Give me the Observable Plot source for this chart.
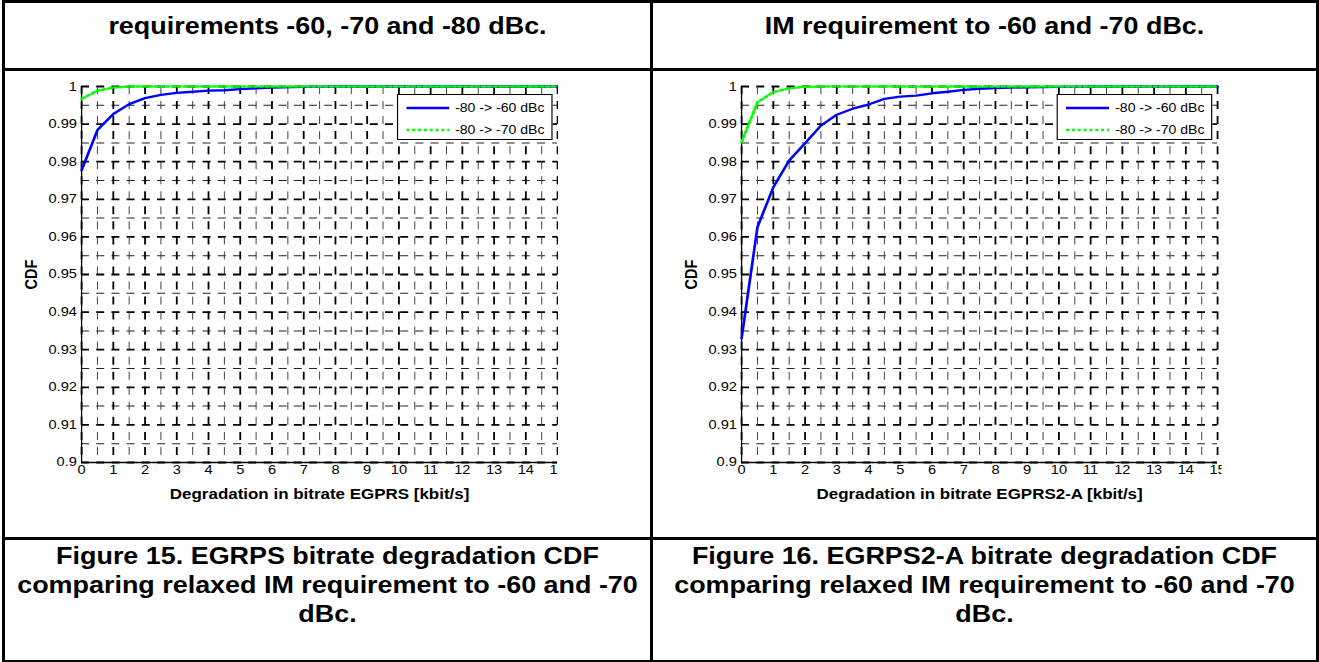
<!DOCTYPE html>
<html><head><meta charset="utf-8">
<script src="https://cdn.jsdelivr.net/npm/d3@7"></script>
<script src="https://cdn.jsdelivr.net/npm/@observablehq/plot@0.6"></script>
<style>
html,body{margin:0;padding:0;background:#fff;}
body{width:1319px;height:662px;position:relative;overflow:hidden;font-family:'Liberation Sans',Arial,Helvetica,sans-serif;}
.rule{position:absolute;background:#000;}
.txt{position:absolute;transform-origin:0 0;text-align:center;font-weight:bold;font-size:23px;line-height:29px;color:#000;white-space:nowrap;}
.clip{position:absolute;overflow:hidden;}
.stretch{position:relative;transform-origin:0 0;}
.legend{position:absolute;background:#fff;border:1px solid #000;box-sizing:border-box;font-size:12px;color:#000;}
.legend .row{position:absolute;left:0;height:16px;line-height:16px;white-space:nowrap;}
.legend svg{position:absolute;top:0;}
.legend span{position:absolute;top:0;}
</style>
</head><body>
<script>
// ---------- data ----------
const xTicks = [0,1,2,3,4,5,6,7,8,9,10,11,12,13,14,15];
const xTickLabels = ["0","1","2","3","4","5","6","7","8","9","10","11","12","13","14","15"];
const yTicks = [0.9,0.91,0.92,0.93,0.94,0.95,0.96,0.97,0.98,0.99,1];
const yTickLabels = ["0.9","0.91","0.92","0.93","0.94","0.95","0.96","0.97","0.98","0.99","1"];
const xGrid = [0,0.5,1,1.5,2,2.5,3,3.5,4,4.5,5,5.5,6,6.5,7,7.5,8,8.5,9,9.5,10,10.5,11,11.5,12,12.5,13,13.5,14,14.5,15];
const yGrid = [0.9,0.905,0.91,0.915,0.92,0.925,0.93,0.935,0.94,0.945,0.95,0.955,0.96,0.965,0.97,0.975,0.98,0.985,0.99,0.995,1];
const seriesNames = ["-80 -> -60 dBc","-80 -> -70 dBc"];

// Figure 15: EGPRS
const xEgprs   = [0,0.5,1,1.5,2,2.5,3,3.5,4,4.5,5,5.5,6,7,8,9,10,11,12,13,14,15];
const egprs60  = [0.9777,0.9884,0.9927,0.9953,0.9969,0.9978,0.9983,0.9986,0.9989,0.9990,0.9993,0.9995,0.9997,0.9999,1,1,1,1,1,1,1,1];
const egprs70  = [0.9967,0.9989,0.9997,1,1,1,1,1,1,1,1,1,1,1,1,1,1,1,1,1,1,1];

// Figure 16: EGPRS2-A
const xEgprs2a  = [0,0.5,1,1.5,2,2.5,3,3.5,4,4.5,5,5.5,6,6.5,7,7.5,8,8.5,9,10,11,12,13,14,15];
const egprs2a60 = [0.933,0.9626,0.9732,0.9803,0.9849,0.9896,0.9925,0.9941,0.9952,0.9967,0.9973,0.9976,0.9982,0.9986,0.9991,0.9994,0.9996,0.9997,0.9998,0.9999,1,1,1,1,1];
const egprs2a70 = [0.9852,0.9958,0.9985,0.9995,0.9999,1,1,1,1,1,1,1,1,1,1,1,1,1,1,1,1,1,1,1,1];

const headerTexts = ["requirements -60, -70 and -80 dBc.", "IM requirement to -60 and -70 dBc."];
const captionLines = [
  ["Figure 15. EGRPS bitrate degradation CDF","comparing relaxed IM requirement to -60 and -70","dBc."],
  ["Figure 16. EGRPS2-A bitrate degradation CDF","comparing relaxed IM requirement to -60 and -70","dBc."]
];
const xLabels = ["Degradation in bitrate EGPRS [kbit/s]","Degradation in bitrate EGPRS2-A [kbit/s]"];
const yLabel = "CDF";

// ---------- layout ----------
const S = 1.17; // horizontal stretch of the scanned page
const body = document.body;
function rule(l,t,w,h){const d=document.createElement("div");d.className="rule";Object.assign(d.style,{left:l+"px",top:t+"px",width:w+"px",height:h+"px"});body.appendChild(d);}
rule(2,0,1317,3); rule(2,0,3,662); rule(650,0,3,662); rule(1316,0,3,662);
rule(2,68,1317,3); rule(2,537,1317,3); rule(2,660,1317,2);

function textBlock(lines, left, width, top){
  const d=document.createElement("div");d.className="txt";
  Object.assign(d.style,{left:left+"px",top:top+"px",width:(width/S)+"px",transform:`scaleX(${S})`});
  lines.forEach((ln,i)=>{ if(i) d.appendChild(document.createElement("br")); d.appendChild(document.createTextNode(ln)); });
  body.appendChild(d);
}
const cells = [{left:5,width:645},{left:653,width:663}];
textBlock([headerTexts[0]], cells[0].left, cells[0].width, 12);
textBlock([headerTexts[1]], cells[1].left, cells[1].width, 12);
textBlock(captionLines[0], cells[0].left, cells[0].width, 542);
textBlock(captionLines[1], cells[1].left, cells[1].width, 542);

const yLabelMap = new Map(yTicks.map((v,i)=>[v,yTickLabels[i]]));
const xLabelMap = new Map(xTicks.map((v,i)=>[v,xTickLabels[i]]));

function chart({xs, s60, s70, xLabel, L, clipRight, axisReal, x15Real, legendReal}){
  const top = 70, H = 440;
  const W = (clipRight - L)/S;
  const ml = (axisReal - L)/S;
  const mr = W - (x15Real - L)/S;
  const mt = 86 - top, mb = H - (462 - top);
  const hDash = `${8/S},${7.2/S}`;
  const vDash = "8,7.04";
  const d60 = xs.map((x,i)=>({x, y:s60[i]}));
  const d70 = xs.map((x,i)=>({x, y:s70[i]}));
  const isMajorX = v => Math.abs(v - Math.round(v)) < 1e-9;
  const isMajorY = v => Math.abs(v*100 - Math.round(v*100)) < 1e-6;
  const svg = Plot.plot({
    width: W, height: H, marginTop: mt, marginBottom: mb, marginLeft: ml, marginRight: mr,
    x: {domain:[0,15]}, y: {domain:[0.9,1]},
    style: {fontFamily:"'Liberation Sans', Arial, sans-serif", fontSize:"12.5px", color:"#000", background:"transparent"},
    marks: [
      Plot.ruleY(yGrid.filter(v=>!isMajorY(v)), {stroke:"#222", strokeWidth:1, strokeDasharray:hDash}),
      Plot.ruleY(yGrid.filter(isMajorY), {stroke:"#000", strokeWidth:1.8, strokeDasharray:hDash}),
      Plot.ruleX(xGrid.filter(v=>!isMajorX(v)), {stroke:"#333", strokeWidth:1/S, strokeDasharray:vDash}),
      Plot.ruleX(xGrid.filter(isMajorX), {stroke:"#000", strokeWidth:1.8/S, strokeDasharray:vDash}),
      Plot.ruleX([0], {stroke:"#000", strokeWidth:1.3/S}),
      Plot.ruleY([0.9], {stroke:"#000", strokeWidth:1.3}),
      Plot.axisX({ticks:xTicks, tickSize:0, tickPadding:3, label:null, tickFormat:d=>xLabelMap.get(d)}),
      Plot.axisY({ticks:yTicks, tickSize:0, tickPadding:4, label:null, tickFormat:d=>yLabelMap.get(d)}),
      Plot.line(d60, {x:"x", y:"y", stroke:"#0000ff", strokeWidth:2.3}),
      Plot.line(d70, {x:"x", y:"y", stroke:"#00ff00", strokeWidth:2.5, strokeDasharray:"2.5,2.5"}),
      Plot.text([xLabel], {text:d=>d, frameAnchor:"bottom", lineAnchor:"middle", dy:32, fontWeight:"bold", fontSize:14.5}),
      Plot.text([yLabel], {text:d=>d, frameAnchor:"left", textAnchor:"middle", lineAnchor:"middle", rotate:-90, dx:-50/S, fontWeight:"bold", fontSize:14.5})
    ]
  });
  const clip = document.createElement("div"); clip.className="clip";
  Object.assign(clip.style,{left:L+"px",top:top+"px",width:(clipRight-L)+"px",height:H+"px"});
  const st = document.createElement("div"); st.className="stretch";
  Object.assign(st.style,{width:W+"px",height:H+"px",transform:`scaleX(${S})`});
  st.appendChild(svg);
  // legend
  const lg = document.createElement("div"); lg.className="legend";
  Object.assign(lg.style,{left:((legendReal.x-L)/S)+"px",top:(legendReal.y-top)+"px",width:(155/S)+"px",height:"46px"});
  const styles = [{stroke:"#0000ff",w:2.3,dash:null},{stroke:"#00ff00",w:2.5,dash:"2.5,2.5"}];
  [12.5,35].forEach((cy,i)=>{
    const row=document.createElement("div");row.className="row";row.style.top=(cy-8)+"px";row.style.width="100%";
    const ns="http://www.w3.org/2000/svg";
    const s=document.createElementNS(ns,"svg");s.setAttribute("width",String(43/S));s.setAttribute("height","16");
    s.style.left=(8/S)+"px";
    const ln=document.createElementNS(ns,"line");
    ln.setAttribute("x1","0");ln.setAttribute("x2",String(43/S));ln.setAttribute("y1","8");ln.setAttribute("y2","8");
    ln.setAttribute("stroke",styles[i].stroke);ln.setAttribute("stroke-width",String(styles[i].w));
    if(styles[i].dash) ln.setAttribute("stroke-dasharray",styles[i].dash);
    s.appendChild(ln);row.appendChild(s);
    const sp=document.createElement("span");sp.textContent=seriesNames[i];sp.style.left=(57/S)+"px";
    row.appendChild(sp);lg.appendChild(row);
  });
  st.appendChild(lg);
  clip.appendChild(st);
  body.appendChild(clip);
}

chart({xs:xEgprs, s60:egprs60, s70:egprs70, xLabel:xLabels[0], L:5, clipRight:558, axisReal:81, x15Real:557, legendReal:{x:397,y:94}});
chart({xs:xEgprs2a, s60:egprs2a60, s70:egprs2a70, xLabel:xLabels[1], L:653, clipRight:1221.5, axisReal:741, x15Real:1217, legendReal:{x:1057,y:94}});
</script>
</body></html>
